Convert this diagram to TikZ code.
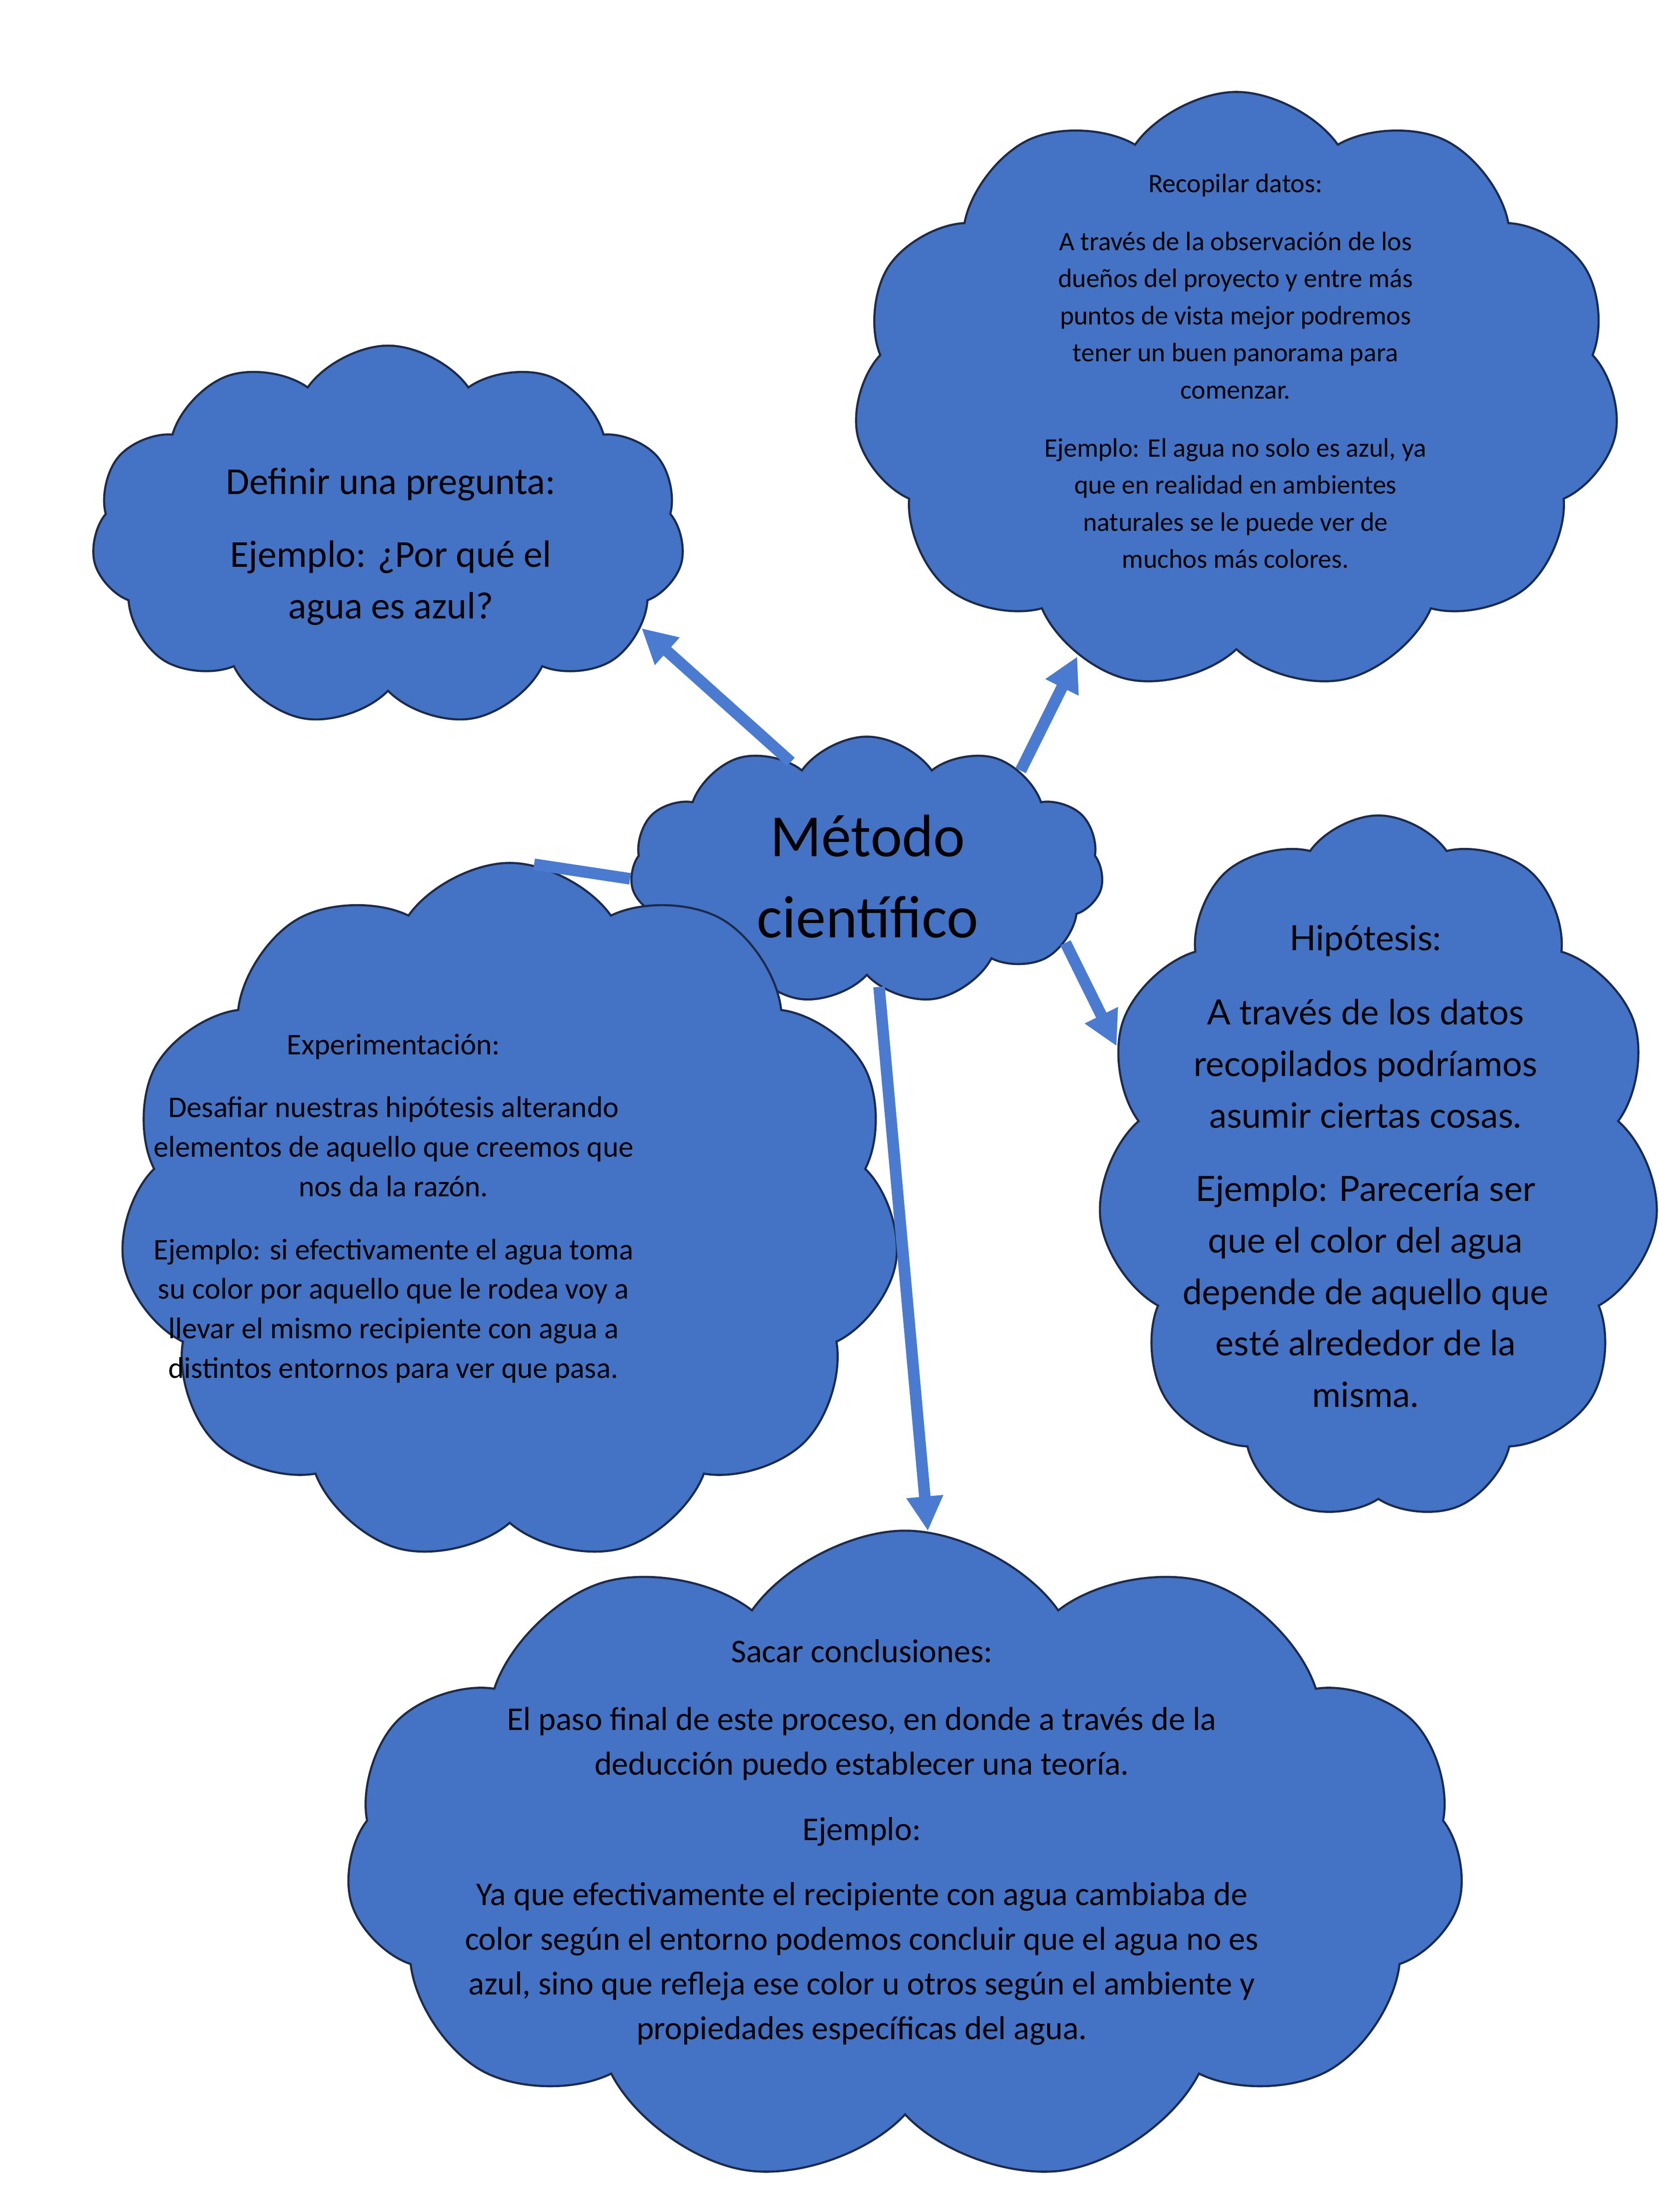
\documentclass[tikz,border=0pt]{standalone}
\usepackage{fontspec}
\setmainfont{Carlito}
\newfontfamily\hypfont{Lato}
\usetikzlibrary{shapes.symbols,arrows.meta}
\definecolor{cloudblue}{HTML}{4472C4}
\definecolor{cloudline}{HTML}{1C2B4C}
\definecolor{arrowblue}{HTML}{4A7BD0}

\begin{document}
\begin{tikzpicture}[
        every node/.style={inner sep=0pt},
        cloudbox/.style={cloud, cloud puffs=11, cloud puff arc=110, cloud ignores aspect,
            fill=cloudblue, draw=cloudline, line width=1.3pt},
        txt/.style={align=center, text=black},
        arrowline/.style={draw=arrowblue, line width=2.5mm, -{Triangle[length=7.5mm, width=7.5mm]}},
        plainline/.style={draw=arrowblue, line width=2.5mm}
    ]
        \useasboundingbox (0,0) rectangle (36,-48);

        % Clouds
        \node[cloudbox, minimum width=12.86cm, minimum height=8.26cm] (def) at (8.42,-11.63) {};
        \node[cloudbox, minimum width=16.62cm, minimum height=13.01cm] (rec) at (26.83,-8.50) {};
        \node[cloudbox, minimum width=10.26cm, minimum height=5.81cm] (met) at (18.81,-18.89) {};
        \node[cloudbox, minimum width=16.93cm, minimum height=15.19cm] (exp) at (11.06,-26.32) {};
        \node[cloudbox, minimum width=12.19cm, minimum height=15.31cm] (hyp) at (29.91,-25.35) {};
        \node[cloudbox, minimum width=24.27cm, minimum height=14.17cm] (sac) at (19.64,-40.30) {};

        % Texts
        \node[txt, font=\fontsize{23.5}{32}\selectfont] (def-t) at (8.48,-11.86)
            {Definir una pregunta:\\[13pt] Ejemplo: ¿Por qué el\\ agua es azul?};
        \node[txt, font=\fontsize{16.5}{22.9}\selectfont] (rec-t) at (26.81,-8.05)
            {Recopilar datos:\\[13pt]
             A través de la observación de los\\ dueños del proyecto y entre más\\
             puntos de vista mejor podremos\\ tener un buen panorama para\\ comenzar.\\[13pt]
             Ejemplo: El agua no solo es azul, ya\\ que en realidad en ambientes\\
             naturales se le puede ver de\\ muchos más colores.};
        \node[txt, font=\fontsize{37}{50}\selectfont] (met-t) at (18.83,-19.02)
            {Método\\ científico};
        \node[txt, font=\fontsize{18.5}{24.4}\selectfont] (exp-t) at (8.54,-26.22)
            {Experimentación:\\[14.5pt]
             Desafiar nuestras hipótesis alterando\\ elementos de aquello que creemos que\\
             nos da la razón.\\[14.5pt]
             Ejemplo: si efectivamente el agua toma\\ su color por aquello que le rodea voy a\\
             llevar el mismo recipiente con agua a\\ distintos entornos para ver que pasa.};
        \node[txt, font=\hypfont\fontsize{21.5}{31.8}\selectfont] (hyp-t) at (29.63,-25.31)
            {Hipótesis:\\[14pt]
             A través de los datos\\ recopilados podríamos\\ asumir ciertas cosas.\\[13.5pt]
             Ejemplo: Parecería ser\\ que el color del agua\\ depende de aquello que\\
             esté alrededor de la\\ misma.};
        \node[txt, font=\fontsize{20.5}{27.6}\selectfont] (sac-t) at (18.70,-39.98)
            {Sacar conclusiones:\\[14pt]
             El paso final de este proceso, en donde a través de la\\
             deducción puedo establecer una teoría.\\[13pt]
             Ejemplo:\\[12.5pt]
             Ya que efectivamente el recipiente con agua cambiaba de\\
             color según el entorno podemos concluir que el agua no es\\
             azul, sino que refleja ese color u otros según el ambiente y\\
             propiedades específicas del agua.};

        % Connect the centre to the steps
        \foreach \a/\b/\c in {125/def/-20, 33/rec/-121, -20/hyp/155, -84/sac/86} {
            \draw[arrowline] (met.\a) -- (\b.\c);
        }
        \draw[plainline] (met.182) -- (exp.86);
    \end{tikzpicture}
\end{document}
